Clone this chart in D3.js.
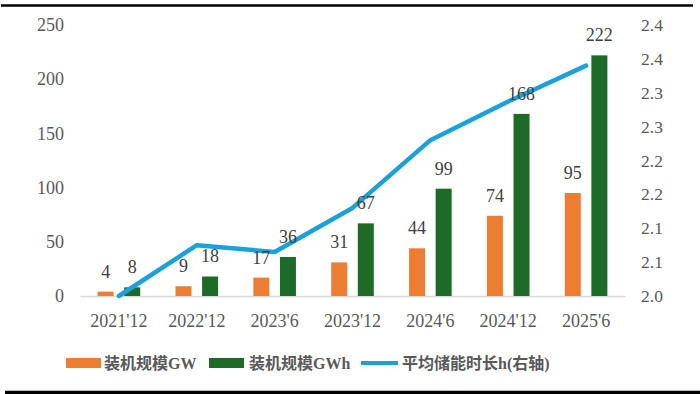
<!DOCTYPE html>
<html>
<head>
<meta charset="utf-8">
<script src="https://cdn.jsdelivr.net/npm/d3@7/dist/d3.min.js"></script>
<style>
html,body{margin:0;padding:0;background:#fff;}
svg{display:block;}
</style>
</head>
<body>
<svg id="chart" width="700" height="394"></svg>
<script>
const categories = ["2021'12","2022'12","2023'6","2023'12","2024'6","2024'12","2025'6"];
const gwValues = [4, 9, 17, 31, 44, 74, 95];
const gwhValues = [8, 18, 36, 67, 99, 168, 222];
const durationValues = [2.0, 2.075, 2.065, 2.13, 2.23, 2.287, 2.34];
const leftTicks = [0, 50, 100, 150, 200, 250];
const rightTicks = [2.0, 2.05, 2.1, 2.15, 2.2, 2.25, 2.3, 2.35, 2.4];
const rightTickLabels = ["2.0","2.1","2.1","2.2","2.2","2.3","2.3","2.4","2.4"];
const seriesNames = ["装机规模GW", "装机规模GWh", "平均储能时长h(右轴)"];

const colors = {gw: "#ED7D31", gwh: "#1D6B26", line: "#1AA1DB", text: "#595959", label: "#404040"};
const SERIF = "'Liberation Serif', serif";
const LEGEND = "'Liberation Serif', 'Noto Sans CJK SC', serif";
const svg = d3.select("#chart");

const plot = {left: 80, right: 625, top: 25, bottom: 296};

const x = d3.scaleBand().domain(categories).range([plot.left, plot.right]);
const yL = d3.scaleLinear().domain([0, 250]).range([plot.bottom, plot.top]);
const yR = d3.scaleLinear().domain([2.0, 2.4]).range([plot.bottom, plot.top]);

// border lines
svg.append("line").attr("x1", 1).attr("x2", 693).attr("y1", 5.5).attr("y2", 5.5)
  .attr("stroke", "#000").attr("stroke-width", 2.5);
svg.append("line").attr("x1", 5).attr("x2", 700).attr("y1", 392.5).attr("y2", 392.5)
  .attr("stroke", "#000").attr("stroke-width", 3.5);

function styleTicks(g, size) {
  g.attr("font-family", SERIF).attr("font-size", size);
  g.selectAll("text").style("font-family", SERIF).style("font-size", size + "px").attr("fill", colors.text);
}

// left axis
const leftAxis = d3.axisLeft(yL).tickValues(leftTicks).tickSize(0).tickPadding(0);
const gl = svg.append("g").attr("transform", "translate(64,0)").call(leftAxis);
gl.select(".domain").remove();
styleTicks(gl, 18);

// right axis
const rightAxis = d3.axisRight(yR).tickValues(rightTicks).tickSize(0).tickPadding(0)
  .tickFormat((d, i) => rightTickLabels[i]);
const gr = svg.append("g").attr("transform", "translate(641,0)").call(rightAxis);
gr.select(".domain").remove();
styleTicks(gr, 17.5);

// x axis
const bottomAxis = d3.axisBottom(x).tickSize(0).tickPadding(0);
const gx = svg.append("g").attr("transform", `translate(0,${plot.bottom})`).call(bottomAxis);
gx.select(".domain").attr("stroke", "#D9D9D9").attr("stroke-width", 1.5);
styleTicks(gx, 18);
gx.selectAll("text").attr("dy", "1.72em");

const barW = 16, off = 13.3;
const cx = d => x(d) + x.bandwidth() / 2;

// bars
svg.append("g").selectAll("rect").data(categories).join("rect")
  .attr("x", (d) => cx(d) - off - barW / 2)
  .attr("width", barW)
  .attr("y", (d, i) => yL(gwValues[i]))
  .attr("height", (d, i) => plot.bottom - yL(gwValues[i]))
  .attr("fill", colors.gw);
svg.append("g").selectAll("rect").data(categories).join("rect")
  .attr("x", (d) => cx(d) + off - barW / 2)
  .attr("width", barW)
  .attr("y", (d, i) => yL(gwhValues[i]))
  .attr("height", (d, i) => plot.bottom - yL(gwhValues[i]))
  .attr("fill", colors.gwh);

// line
const line = d3.line().x((d, i) => cx(categories[i])).y(d => yR(d));
svg.append("path").datum(durationValues).attr("d", line)
  .attr("fill", "none").attr("stroke", colors.line).attr("stroke-width", 4.5)
  .attr("stroke-linejoin", "round").attr("stroke-linecap", "round");

// data labels
svg.append("g").selectAll("text").data(categories).join("text")
  .style("font-family", SERIF).style("font-size", "18px")
  .attr("x", d => cx(d) - off)
  .attr("y", (d, i) => yL(gwValues[i]) - 14)
  .attr("text-anchor", "middle").attr("fill", colors.label)
  .text((d, i) => gwValues[i]);
svg.append("g").selectAll("text").data(categories).join("text")
  .style("font-family", SERIF).style("font-size", "18px")
  .attr("x", d => cx(d) + off)
  .attr("y", (d, i) => yL(gwhValues[i]) - 14)
  .attr("text-anchor", "middle").attr("fill", colors.label)
  .text((d, i) => gwhValues[i]);

// legend
const lg = svg.append("g").style("font-family", LEGEND).style("font-size", "16px")
  .style("font-weight", "bold").attr("fill", colors.text);
lg.append("rect").attr("x", 66).attr("y", 358).attr("width", 35).attr("height", 10).attr("fill", colors.gw);
lg.append("text").attr("x", 104).attr("y", 369).text(seriesNames[0]);
lg.append("rect").attr("x", 209).attr("y", 358).attr("width", 35).attr("height", 10).attr("fill", colors.gwh);
lg.append("text").attr("x", 249).attr("y", 369).text(seriesNames[1]);
lg.append("line").attr("x1", 361).attr("x2", 398).attr("y1", 363).attr("y2", 363)
  .attr("stroke", colors.line).attr("stroke-width", 4);
lg.append("text").attr("x", 402).attr("y", 369).text(seriesNames[2]);
</script>
</body>
</html>
